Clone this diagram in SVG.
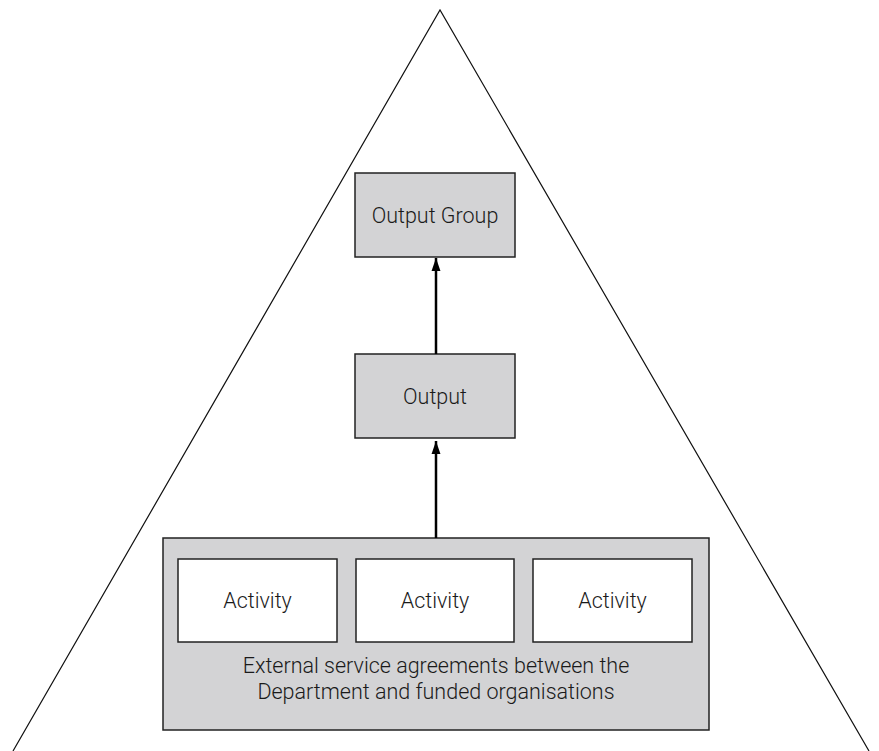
<svg xmlns="http://www.w3.org/2000/svg" width="879" height="751" viewBox="0 0 879 751">
<style>
.box{fill:#d3d3d5;stroke:#222;stroke-width:1.5}
.act{fill:#fff;stroke:#222;stroke-width:1.5}
.t{font-family:Roboto,"Liberation Sans",sans-serif;font-weight:300;font-size:21.5px;fill:#1a1a1a;text-anchor:middle}
.c{stroke:#000;stroke-width:2.5;fill:none}
</style>
<defs>
<marker id="ah" markerWidth="13" markerHeight="19" refX="19" refY="6.5" orient="auto" markerUnits="userSpaceOnUse" viewBox="0 0 19 13">
<path d="M0,0 L19,6.5 L0,13 Z" fill="#000"/>
</marker>
</defs>
<g id="triangle"><polyline points="13,751 440,10 869,751" fill="none" stroke="#111" stroke-width="1.2"/></g>
<g id="container">
<rect class="box" x="163" y="538" width="546" height="192"/>
<text class="t" x="436" y="673">External service agreements between the</text>
<text class="t" x="436" y="699">Department and funded organisations</text>
</g>
<g id="activity1"><rect class="act" x="178" y="559" width="159" height="83"/><text class="t" x="257.5" y="608">Activity</text></g>
<g id="activity2"><rect class="act" x="356" y="559" width="158" height="83"/><text class="t" x="435" y="608">Activity</text></g>
<g id="activity3"><rect class="act" x="533" y="559" width="159" height="83"/><text class="t" x="612.5" y="608">Activity</text></g>
<g id="output"><rect class="box" x="355" y="354" width="160" height="84"/><text class="t" x="435" y="404">Output</text></g>
<g id="outputgroup"><rect class="box" x="355" y="173" width="160" height="84"/><text class="t" x="435" y="223">Output Group</text></g>
<g id="connectors">
<line class="c" x1="436" y1="538" x2="436" y2="441" marker-end="url(#ah)"/>
<line class="c" x1="436" y1="354" x2="436" y2="258" marker-end="url(#ah)"/>
</g>
</svg>
